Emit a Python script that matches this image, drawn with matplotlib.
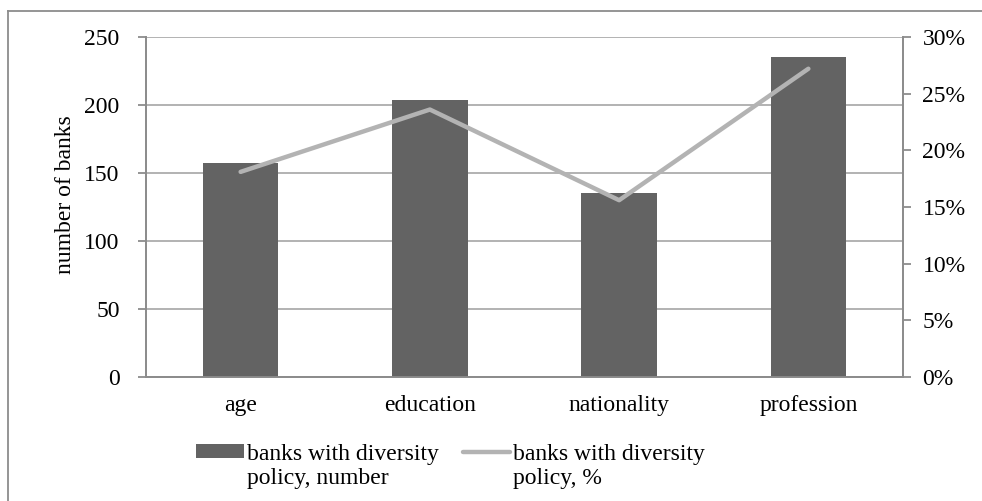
"""
Banks with diversity policy: bar (count) + line (share) on twin axes
"""
import numpy as np
import matplotlib
import matplotlib.pyplot as plt
from matplotlib.lines import Line2D
from matplotlib.ticker import FuncFormatter
from matplotlib.legend_handler import HandlerPatch, HandlerLine2D

matplotlib.use("Agg")

categories = ["age", "education", "nationality", "profession"]
n_banks = [157, 204, 135, 235]
share_pct = [18.1, 23.6, 15.6, 27.2]

bar_label = "banks with diversity\npolicy, number"
line_label = "banks with diversity\npolicy, %"

BAR_COLOR = "#636363"
LINE_COLOR = "#b3b3b3"
GRID_COLOR = "#a6a6a6"
AXIS_COLOR = "#8c8c8c"
FS = 17

plt.rcParams["font.family"] = ["Liberation Serif", "DejaVu Serif"]
plt.rcParams["font.size"] = FS


# Legend handles sit level with the first text line, like Excel does it
class TopPatch(HandlerPatch):
    def create_artists(self, *args, **kwargs):
        arts = super().create_artists(*args, **kwargs)
        for a in arts:
            a.set_y(a.get_y() + 0.62 * FS)
        return arts


class TopLine(HandlerLine2D):
    def create_artists(self, *args, **kwargs):
        arts = super().create_artists(*args, **kwargs)
        for a in arts:
            a.set_ydata(np.asarray(a.get_ydata()) + 0.62 * FS)
        return arts


def main():
    fig = plt.figure(figsize=(9.82, 5.01), dpi=100)
    ax = fig.add_axes([146 / 982, 1 - 377 / 501, (903 - 146) / 982, (377 - 37) / 501])
    ax2 = ax.twinx()

    x = range(len(categories))
    bars = ax.bar(x, n_banks, width=0.4, color=BAR_COLOR, zorder=3)
    (line,) = ax2.plot(x, share_pct, color=LINE_COLOR, lw=3.2,
                       solid_capstyle="round", zorder=4)

    ax.set_xlim(-0.5, len(categories) - 0.5)
    ax.set_ylim(0, 250)
    ax.set_yticks(range(0, 251, 50))
    ax2.set_ylim(0, 30)
    ax2.set_yticks(range(0, 31, 5))
    ax2.yaxis.set_major_formatter(FuncFormatter(lambda v, _: f"{v:.0f}%"))

    ax.set_xticks(list(x))
    ax.set_xticklabels(categories)
    ax.set_ylabel("number of banks")
    ax.yaxis.set_label_coords(-0.093, 0.535)

    ax.grid(axis="y", color=GRID_COLOR, lw=1.2, zorder=0)
    ax.set_axisbelow(True)

    for a in (ax, ax2):
        a.spines["top"].set_visible(False)
        for side in ("left", "right", "bottom"):
            a.spines[side].set_color(AXIS_COLOR)
            a.spines[side].set_linewidth(1.3)
        a.tick_params(axis="y", color=AXIS_COLOR, length=6, width=1.3)
    ax.tick_params(axis="y", pad=13)
    ax2.tick_params(axis="y", pad=8)
    ax.tick_params(axis="x", length=0, pad=13)
    ax2.set_zorder(ax.get_zorder() + 1)
    ax2.patch.set_visible(False)

    bar_handle = bars.patches[0]
    fig.legend([bar_handle, line], [bar_label, line_label], loc="lower center",
               bbox_to_anchor=(0.459, -0.018), ncol=2, frameon=False,
               handlelength=2.0, handleheight=0.5, handletextpad=0.15,
               columnspacing=1.0, labelspacing=0.3,
               handler_map={bar_handle: TopPatch(), line: TopLine()})

    # chart-area border, only top and left visible in the crop
    fig.add_artist(Line2D([8 / 982, 8 / 982], [0, 1 - 11 / 501],
                          color=AXIS_COLOR, lw=1.3))
    fig.add_artist(Line2D([8 / 982, 1], [1 - 11 / 501, 1 - 11 / 501],
                          color=AXIS_COLOR, lw=1.3))

    fig.savefig("out.png", dpi=100)


if __name__ == "__main__":
    main()
